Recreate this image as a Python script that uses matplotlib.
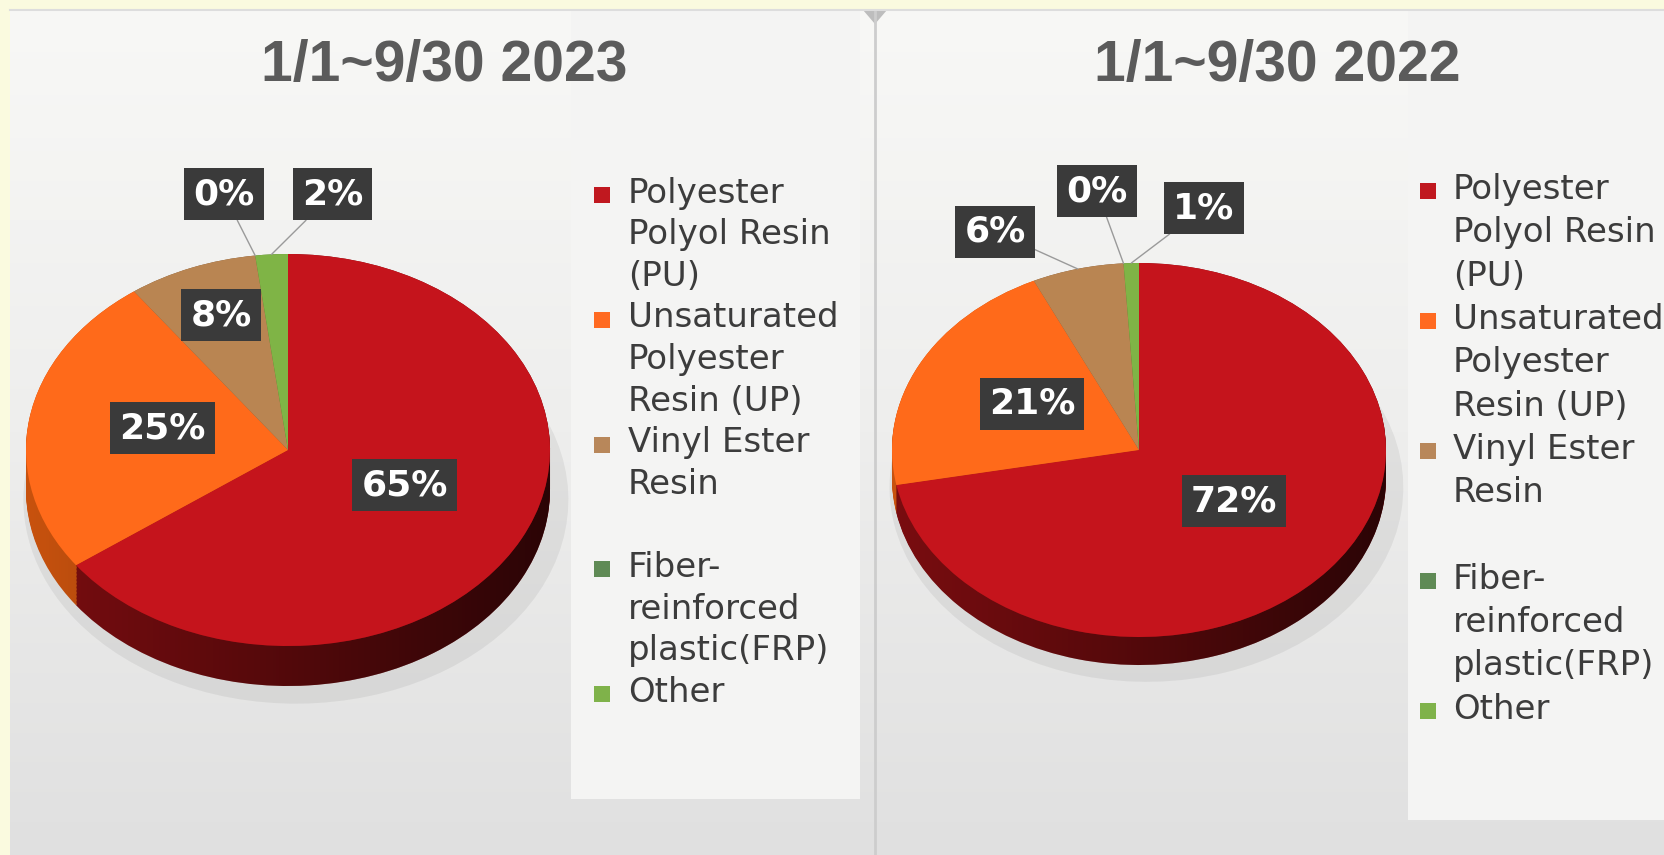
import numpy as np
import matplotlib
matplotlib.use("Agg")
import matplotlib.pyplot as plt
from matplotlib.colors import LinearSegmentedColormap
from matplotlib.patches import Rectangle, Polygon

W, H = 1665, 855

categories = ["Polyester Polyol Resin (PU)", "Unsaturated Polyester Resin (UP)",
              "Vinyl Ester Resin", "Fiber-reinforced plastic(FRP)", "Other"]
legend_lines = [["Polyester", "Polyol Resin", "(PU)"],
                ["Unsaturated", "Polyester", "Resin (UP)"],
                ["Vinyl Ester", "Resin"],
                ["Fiber-", "reinforced", "plastic(FRP)"],
                ["Other"]]
titles = ["1/1~9/30 2023", "1/1~9/30 2022"]
values_2023 = [65, 25, 8, 0, 2]
values_2022 = [72, 21, 6, 0, 1]

top_colors = ["#c5141c", "#ff6a1a", "#b98552", "#5e8b55", "#7fb446"]
side_colors = ["#7a0d10", "#c8520e", "#7a5533", "#3c5a36", "#557a2c"]
legend_colors = ["#c0181f", "#ff6a21", "#b8875a", "#5f8a55", "#7fb24a"]

# pie geometry in pixels: centre x, centre y, x radius, y radius, depth
geom = [(288, 450, 262, 196, 40), (1139, 450, 247, 187, 28)]
# label positions in pie units, and which labels get a leader line
label_pos = [[(0.445, -0.18), (-0.479, 0.112), (-0.256, 0.687), (-0.244, 1.305), (0.169, 1.305)],
             [(0.385, -0.273), (-0.433, 0.248), (-0.583, 1.168), (-0.17, 1.385), (0.263, 1.294)]]
leaders = [[False, False, False, True, True], [False, False, True, True, True]]

fig = plt.figure(figsize=(W / 100, H / 100), dpi=100, facecolor="#fafadf")

# background
bg = fig.add_axes([0, 0, 1, 1], zorder=0)
cmap = LinearSegmentedColormap.from_list("bg", ["#f8f8f6", "#eeeeed", "#e0e0e0"])
grad = np.linspace(0, 1, 256).reshape(-1, 1)
bg.imshow(grad, cmap=cmap, extent=[10, W, H, 10], aspect="auto")
bg.add_patch(Rectangle((571, 10), 289, 789, color="#f4f4f3", lw=0))
bg.add_patch(Rectangle((1408, 10), 257, 810, color="#f4f4f3", lw=0))
bg.plot([875, 875], [10, H], color="#cdcdcd", lw=2)
bg.fill([863, 887, 875], [10, 10, 24], color="#bdbdbd", lw=0)
bg.plot([10, W], [10, 10], color="#dddddd", lw=1.5)
bg.set_xlim(0, W)
bg.set_ylim(H, 0)
bg.axis("off")

# titles
for t, x in zip(titles, [444, 1277]):
    bg.text(x, 66, t, ha="center", va="center", fontsize=41, fontweight="bold",
            color="#5b5b5b", family="Liberation Sans")

# legends
legend_layout = [(602, 628, 193, 41.6), (1428, 1453, 189.5, 43.3)]
for mx, tx, y0, step in legend_layout:
    for i, (lines, c) in enumerate(zip(legend_lines, legend_colors)):
        y = y0 + 3 * i * step
        bg.scatter([mx], [y + 2], marker="s", s=120, color=c, lw=0)
        for j, line in enumerate(lines):
            bg.text(tx, y + j * step, line, ha="left", va="center", fontsize=24.5,
                    color="#3c3c3c", family="DejaVu Sans")

# pies
ext = 1.6
shade = LinearSegmentedColormap.from_list("shade", [(0, 0, 0, 0), (0, 0, 0, 0.65)])
for values, (cx, cy, rx, ry, depth), lpos, lead in zip([values_2023, values_2022], geom,
                                                       label_pos, leaders):
    ax = fig.add_axes([(cx - ext * rx) / W, 1 - (cy + ext * ry) / H,
                       2 * ext * rx / W, 2 * ext * ry / H], zorder=1)
    ax.patch.set_alpha(0)
    d = depth / ry
    # soft shadow
    ax.pie(values, center=(0.03, -d - 0.05), radius=1.04, startangle=90, counterclock=False,
           colors=["#000000"] * len(values), wedgeprops=dict(linewidth=0, alpha=0.06))
    for k in np.linspace(d, 0, 30):
        ax.pie(values, center=(0, -k), startangle=90, counterclock=False,
               colors=side_colors, wedgeprops=dict(linewidth=0))
    # darken the side towards the right
    th = np.linspace(np.pi, 2 * np.pi, 100)
    outline = np.vstack([np.c_[np.cos(th), np.sin(th) - d],
                         np.c_[np.cos(th[::-1]), np.sin(th[::-1])]])
    clip = Polygon(outline, closed=True, transform=ax.transData, fc="none", ec="none")
    ax.add_patch(clip)
    im = ax.imshow(np.linspace(0, 1, 256).reshape(1, -1), cmap=shade,
                   extent=[-1, 1, -1 - d, 0], aspect="auto", zorder=1)
    im.set_clip_path(clip)
    ax.pie(values, startangle=90, counterclock=False, colors=top_colors,
           wedgeprops=dict(linewidth=0, zorder=2))

    total = sum(values)
    start = 90.0
    for v, (lx, ly), has_line in zip(values, lpos, lead):
        sweep = 360.0 * v / total
        mid = np.radians(start - sweep / 2)
        start -= sweep
        box = dict(boxstyle="square,pad=0.25", fc="#3a3a3a", ec="none")
        if has_line:
            ax.annotate(f"{v}%", xy=(np.cos(mid), np.sin(mid)), xytext=(lx, ly),
                        ha="center", va="center", fontsize=26, fontweight="bold",
                        color="white", bbox=box, zorder=4,
                        arrowprops=dict(arrowstyle="-", color="#9a9a9a", lw=1,
                                        shrinkA=0, shrinkB=0))
        else:
            ax.text(lx, ly, f"{v}%", ha="center", va="center", fontsize=26,
                    fontweight="bold", color="white", bbox=box, zorder=4)

    ax.set_aspect("auto")
    ax.set_xlim(-ext, ext)
    ax.set_ylim(-ext, ext)
    ax.axis("off")

fig.savefig("out.png", dpi=100, facecolor=fig.get_facecolor())
